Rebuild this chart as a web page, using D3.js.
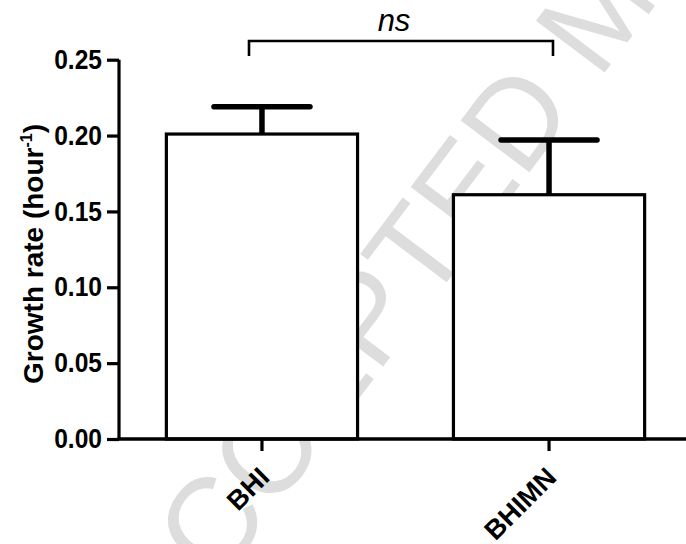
<!DOCTYPE html>
<html>
<head>
<meta charset="utf-8">
<script src="https://cdnjs.cloudflare.com/ajax/libs/d3/7.8.5/d3.min.js"></script>
<style>
  body { margin: 0; background: #fff; }
  svg { display: block; }
  text { font-family: "Liberation Sans", Arial, sans-serif; }
</style>
</head>
<body>
<svg id="chart" width="686" height="544"></svg>
<script>
// data
var groups = ['BHI', 'BHIMN'];
var means = [0.201, 0.161];
var errors = [0.018, 0.036];
var yTicks = [0.00, 0.05, 0.10, 0.15, 0.20, 0.25];
var sigLabel = 'ns';

var svg = d3.select('#chart');

// faint journal watermark, sits behind the (opaque) bars
svg.append('text')
    .attr('transform', 'translate(168,652) rotate(-53)')
    .attr('font-size', 125)
    .attr('fill', '#dddddd')
    .text('ACCEPTED MANUSCRIPT');

var x = d3.scaleBand()
    .domain(groups)
    .range([119, 692])
    .paddingInner(0.334)
    .paddingOuter(0.165);

var y = d3.scaleLinear()
    .domain([0, 0.25])
    .range([439, 59.7]);

var rows = groups.map(function(g, i) {
    return {name: g, mean: means[i], err: errors[i]};
});

// bars
svg.append('g').selectAll('rect').data(rows)
    .enter().append('rect')
    .attr('x', function(d) { return x(d.name); })
    .attr('y', function(d) { return y(d.mean); })
    .attr('width', x.bandwidth())
    .attr('height', function(d) { return y(0) - y(d.mean); })
    .attr('fill', '#fff')
    .attr('stroke', '#000')
    .attr('stroke-width', 3.2);

// error bars (upper only)
var eb = svg.append('g');
eb.selectAll('line.stem').data(rows)
    .enter().append('line')
    .attr('class', 'stem')
    .attr('x1', function(d) { return x(d.name) + x.bandwidth() / 2; })
    .attr('x2', function(d) { return x(d.name) + x.bandwidth() / 2; })
    .attr('y1', function(d) { return y(d.mean); })
    .attr('y2', function(d) { return y(d.mean + d.err); })
    .attr('stroke', '#000')
    .attr('stroke-width', 5.5);
eb.selectAll('line.cap').data(rows)
    .enter().append('line')
    .attr('class', 'cap')
    .attr('x1', function(d) { return x(d.name) + x.bandwidth() / 2 - 48; })
    .attr('x2', function(d) { return x(d.name) + x.bandwidth() / 2 + 48; })
    .attr('y1', function(d) { return y(d.mean + d.err); })
    .attr('y2', function(d) { return y(d.mean + d.err); })
    .attr('stroke', '#000')
    .attr('stroke-width', 5.5)
    .attr('stroke-linecap', 'round');

// y axis
var yAxis = svg.append('g')
    .attr('transform', 'translate(119,0)')
    .call(d3.axisLeft(y).tickValues(yTicks).tickFormat(d3.format('.2f'))
        .tickSize(12).tickPadding(5));
yAxis.select('.domain').attr('d', 'M0,' + y(0.25) + 'V' + y(0))
    .attr('stroke-width', 3.2);
yAxis.selectAll('.tick line').attr('stroke-width', 3.2);
// labels in the figure are a bit narrow, squeeze them sideways
yAxis.selectAll('.tick text')
    .attr('x', 0)
    .attr('transform', 'translate(-17,0) scale(0.91,1)')
    .attr('font-size', 27)
    .attr('font-weight', 'bold')
    .attr('font-family', '"Liberation Sans", Arial, sans-serif')
    .attr('fill', '#000');

// x axis
var xAxis = svg.append('g')
    .attr('transform', 'translate(0,439)')
    .call(d3.axisBottom(x).tickSize(12));
xAxis.select('.domain').attr('d', 'M117.5,0H686').attr('stroke-width', 3.4);
xAxis.selectAll('.tick line').attr('stroke-width', 3.2);
xAxis.selectAll('.tick text')
    .attr('font-size', 27)
    .attr('font-weight', 'bold')
    .attr('font-family', '"Liberation Sans", Arial, sans-serif')
    .attr('fill', '#000')
    .attr('text-anchor', 'end')
    .attr('y', 0)
    .attr('dy', 0)
    .attr('transform', 'translate(9,40) rotate(-45)');

// y label
var yl = svg.append('text')
    .attr('transform', 'translate(43,254) rotate(-90)')
    .attr('text-anchor', 'middle')
    .attr('font-size', 28)
    .attr('font-weight', 'bold');
yl.append('tspan').text('Growth rate (hour');
yl.append('tspan').attr('font-size', 16).attr('dy', -11).text('-1');
yl.append('tspan').attr('dy', 11).text(')');

// significance bracket
var bx1 = 249, bx2 = 553;
svg.append('path')
    .attr('d', 'M' + bx1 + ',56V41H' + bx2 + 'V56')
    .attr('fill', 'none')
    .attr('stroke', '#000')
    .attr('stroke-width', 2.6);
svg.append('text')
    .attr('x', 394)
    .attr('y', 31)
    .attr('text-anchor', 'middle')
    .attr('font-size', 31)
    .attr('font-style', 'italic')
    .text(sigLabel);
</script>
</body>
</html>
